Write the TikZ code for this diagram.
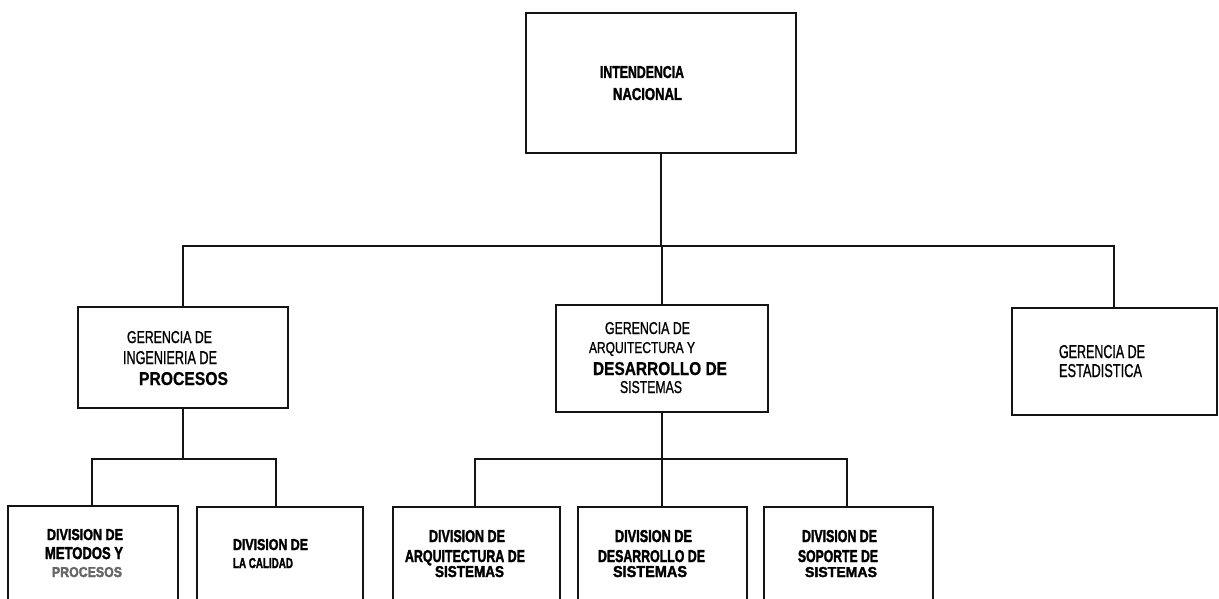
\documentclass[tikz,border=0pt]{standalone}
\usepackage{fontspec}
\setmainfont{Liberation Sans}
\newfontfamily\medfont[FakeBold=1.2]{Liberation Sans}
\newfontfamily\boldfont[FakeBold=0.6]{Liberation Sans Bold}
\newfontfamily\heavyfont[FakeBold=2.2]{Liberation Sans Bold}
\usepackage{graphicx}
\usetikzlibrary{calc}

% one printed line of a label, squeezed to its box:
% name, left x, right x, top y, baseline y, font switches, text
\newcommand\orgline[7]{%
  \pgfmathsetmacro\olw{#3-#2}%
  \pgfmathsetmacro\olh{#5-#4}%
  \node[anchor=base west, inner sep=0pt, outer sep=0pt] (#1) at (#2,#5)
    {\resizebox{\olw pt}{\olh pt}{#6#7}};%
}
% a box given by its two corners
\newcommand\orgbox[6][]{%
  \pgfmathsetmacro\obw{#4-#2}%
  \pgfmathsetmacro\obh{#5-#3}%
  \node[unitbox, minimum width=\obw pt, minimum height=\obh pt, #1] (#6)
    at ({(#2+#4)/2},{(#3+#5)/2}) {};%
}

\definecolor{ink}{HTML}{141414}

\begin{document}
\begin{tikzpicture}[x=1pt, y=-1pt,
  unitbox/.style={draw=ink, line width=1.9pt, fill=white, inner sep=0pt, outer sep=0pt},
  link/.style={draw=ink, line width=1.8pt}]
\useasboundingbox (0,0) rectangle (1219,599);
\clip (0,0) rectangle (1219,599);

% ---- boxes ----
\orgbox[line width=2.5pt]{526}{13}{796}{153}{top}
\orgbox{78}{307}{288}{408}{gip}
\orgbox{556}{305}{768}{412}{gads}
\orgbox{1012}{308}{1217}{415}{gest}
\orgbox{8}{506}{178}{625}{dmp}
\orgbox{197}{507}{363}{625}{dlc}
\orgbox{393}{507}{560}{625}{das}
\orgbox{578}{507}{747}{625}{dds}
\orgbox{764}{507}{933}{625}{dss}

% ---- connectors ----
\coordinate (busA) at (662,246);
\draw[link] (top.south) -- (top.south |- busA);
\draw[link] (gip.north) |- (busA) -| ([xshift=-0.5pt]gest.north);
\draw[link] (gads.north) -- (gads.north |- busA);

\coordinate (busB) at (183,459);
\draw[link] (gip.south) -- (gip.south |- busB);
\draw[link] ([xshift=-1pt]dmp.north) |- (busB) -| ([xshift=-4pt]dlc.north);

\coordinate (busC) at (662,459);
\draw[link] (gads.south) -- (gads.south |- busC);
\draw[link] ([xshift=-1.5pt]das.north) |- (busC) -| ([xshift=-1.5pt]dss.north);
\draw[link] ([xshift=-0.5pt]dds.north) -- ([xshift=-0.5pt]dds.north |- busC);

% ---- labels ----
\orgline{t1}{600}{684}{66}{78}{\heavyfont}{INTENDENCIA}
\orgline{t2}{613}{682}{88}{100}{\heavyfont}{NACIONAL}

\orgline{g1}{127}{212}{331}{343}{\medfont}{GERENCIA DE}
\orgline{g2}{123}{217}{351}{364}{\medfont}{INGENIERIA DE}
\orgline{g3}{139}{228}{372}{385}{\boldfont}{PROCESOS}

\orgline{a1}{605}{690}{322}{334}{\medfont}{GERENCIA DE}
\orgline{a2}{589}{695}{342}{353}{\medfont}{ARQUITECTURA Y}
\orgline{a3}{593}{727}{362}{375}{\boldfont}{DESARROLLO DE}
\orgline{a4}{620}{682}{381}{393}{\medfont}{SISTEMAS}

\orgline{e1}{1059}{1145}{345}{358}{\medfont}{GERENCIA DE}
\orgline{e2}{1059}{1142}{364}{377}{\medfont}{ESTADISTICA}

\orgline{m1}{47}{123}{529}{540}{\heavyfont}{DIVISION DE}
\orgline{m2}{45}{123}{547}{559}{\heavyfont}{METODOS Y}
\orgline{m3}{52}{122}{567}{577}{\heavyfont\color{ink!65}}{PROCESOS}

\orgline{c1}{233}{308}{539}{550}{\heavyfont}{DIVISION DE}
\orgline{c2}{233}{293}{558}{568}{\heavyfont}{LA CALIDAD}

\orgline{r1}{429}{505}{530}{542}{\heavyfont}{DIVISION DE}
\orgline{r2}{405}{525}{550}{562}{\heavyfont}{ARQUITECTURA DE}
\orgline{r3}{435}{504}{566}{577}{\heavyfont}{SISTEMAS}

\orgline{s1}{615}{692}{530}{542}{\heavyfont}{DIVISION DE}
\orgline{s2}{598}{705}{550}{562}{\heavyfont}{DESARROLLO DE}
\orgline{s3}{613}{687}{566}{577}{\heavyfont}{SISTEMAS}

\orgline{p1}{802}{877}{530}{542}{\heavyfont}{DIVISION DE}
\orgline{p2}{798}{878}{550}{562}{\heavyfont}{SOPORTE DE}
\orgline{p3}{805}{877}{567}{577}{\heavyfont}{SISTEMAS}
\end{tikzpicture}
\end{document}
